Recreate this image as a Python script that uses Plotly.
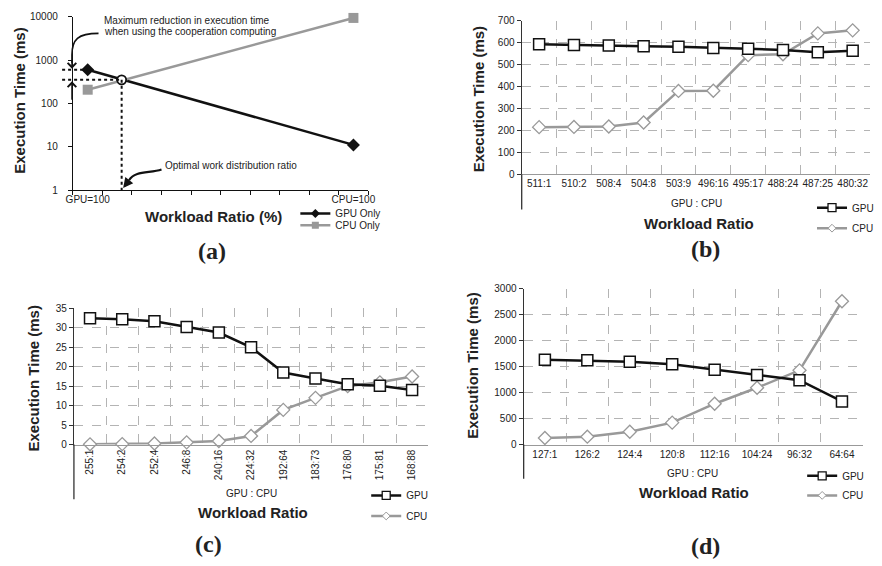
import plotly.graph_objects as go
import math

# ---------------- data ----------------
# (a) conceptual chart, log scale
a_pos = [0.5, 9.5]
a_tick_text = ["GPU=100", "CPU=100"]
a_gpu_only = [600, 11]
a_cpu_only = [207, 9400]
a_opt_x = [1.65]
a_opt_y = [350]

# (b)
b_labels = ["511:1", "510:2", "508:4", "504:8", "503:9", "496:16", "495:17", "488:24", "487:25", "480:32"]
b_gpu = [593, 589, 587, 583, 581, 575, 572, 567, 556, 563]
b_cpu = [215, 216, 218, 236, 380, 381, 543, 547, 642, 656]

# (c)
c_labels = ["255:1", "254:2", "252:4", "246:8", "240:16", "224:32", "192:64", "183:73", "176:80", "175:81", "168:88"]
c_gpu = [32.5, 32.2, 31.7, 30.2, 28.8, 25.0, 18.5, 17.0, 15.5, 15.1, 14.0]
c_cpu = [0.05, 0.1, 0.25, 0.55, 0.9, 2.2, 8.9, 12.0, 15.0, 16.0, 17.5]

# (d)
d_labels = ["127:1", "126:2", "124:4", "120:8", "112:16", "104:24", "96:32", "64:64"]
d_gpu = [1635, 1623, 1597, 1547, 1440, 1340, 1239, 830]
d_cpu = [126, 151, 245, 421, 786, 1094, 1430, 2761]

W, H = 882, 566
FONT = "Liberation Sans, Arial, sans-serif"
SERIF = "Liberation Serif, Times New Roman, serif"
TXT = "#222222"
BLACK = "#111111"
GRAY = "#999999"
GRID = "#b4b4b4"


def fx(px):
    return px / W


def fy(py):
    return 1 - py / H


# panel geometry (pixels)
A = dict(x0=67, x1=367, y0=11, y1=188)
B = dict(x0=523, x1=877, y0=15, y1=172)
C = dict(x0=68, x1=428, y0=309, y1=448)
D = dict(x0=525, x1=870, y0=289, y1=448)

fig = go.Figure()

# ---- (a)
fig.add_trace(go.Scatter(x=a_pos, y=a_gpu_only, mode="lines+markers", name="GPU Only",
                         line=dict(color=BLACK, width=2.5),
                         marker=dict(symbol="diamond", size=10, color=BLACK),
                         xaxis="x", yaxis="y", showlegend=False, cliponaxis=False))
fig.add_trace(go.Scatter(x=a_pos, y=a_cpu_only, mode="lines+markers", name="CPU Only",
                         line=dict(color=GRAY, width=2.5),
                         marker=dict(symbol="square", size=10, color=GRAY),
                         xaxis="x", yaxis="y", showlegend=False, cliponaxis=False))
fig.add_trace(go.Scatter(x=a_opt_x, y=a_opt_y, mode="markers", showlegend=False,
                         marker=dict(symbol="circle", size=9, color="white",
                                     line=dict(color=BLACK, width=1.8)),
                         xaxis="x", yaxis="y", cliponaxis=False))
# legend entries (smaller symbols, as in the reference legend)
fig.add_trace(go.Scatter(x=[None], y=[None], mode="lines+markers", name="GPU Only",
                         line=dict(color=BLACK, width=2.5),
                         marker=dict(symbol="diamond", size=7, color=BLACK),
                         xaxis="x", yaxis="y", legend="legend"))
fig.add_trace(go.Scatter(x=[None], y=[None], mode="lines+markers", name="CPU Only",
                         line=dict(color=GRAY, width=2.5),
                         marker=dict(symbol="square", size=7, color=GRAY),
                         xaxis="x", yaxis="y", legend="legend2"))

# ---- (b), (c), (d)
panels = [("x2", "y2", b_labels, b_gpu, b_cpu, "legend3", "legend4"),
          ("x3", "y3", c_labels, c_gpu, c_cpu, "legend5", "legend6"),
          ("x4", "y4", d_labels, d_gpu, d_cpu, "legend7", "legend8")]
for xa, ya, labs, g, cdat, lg1, lg2 in panels:
    fig.add_trace(go.Scatter(x=labs, y=cdat, mode="lines+markers", name="CPU",
                             line=dict(color=GRAY, width=2.5),
                             marker=dict(symbol="diamond", size=10, color="white",
                                         line=dict(color=GRAY, width=1.3)),
                             xaxis=xa, yaxis=ya, showlegend=False, cliponaxis=False))
    fig.add_trace(go.Scatter(x=labs, y=g, mode="lines+markers", name="GPU",
                             line=dict(color=BLACK, width=2.5),
                             marker=dict(symbol="square", size=11, color="white",
                                         line=dict(color=BLACK, width=1.5)),
                             xaxis=xa, yaxis=ya, showlegend=False, cliponaxis=False))
    fig.add_trace(go.Scatter(x=[None], y=[None], mode="lines+markers", name="GPU",
                             line=dict(color=BLACK, width=2.5),
                             marker=dict(symbol="square", size=8, color="white",
                                         line=dict(color=BLACK, width=1.3)),
                             xaxis=xa, yaxis=ya, legend=lg1))
    fig.add_trace(go.Scatter(x=[None], y=[None], mode="lines+markers", name="CPU",
                             line=dict(color=GRAY, width=2.5),
                             marker=dict(symbol="diamond", size=6, color="white",
                                         line=dict(color=GRAY, width=1)),
                             xaxis=xa, yaxis=ya, legend=lg2))

tickfont = dict(family=FONT, size=10, color=TXT)

layout = dict(
    width=W, height=H, margin=dict(l=0, r=0, t=0, b=0), autosize=False,
    paper_bgcolor="white", plot_bgcolor="white",
    font=dict(family=FONT, size=10, color=TXT),
    xaxis=dict(domain=[fx(A["x0"]), fx(A["x1"])], anchor="y", range=[0, 10],
               tickmode="array", tickvals=a_pos, ticktext=a_tick_text, ticks="",
               showline=True, linecolor=BLACK, linewidth=1.3, showgrid=False, zeroline=False,
               tickfont=tickfont,
               minor=dict(tickmode="linear", tick0=0, dtick=1, ticks="outside", ticklen=4,
                          tickcolor=BLACK, tickwidth=1, showgrid=False)),
    yaxis=dict(domain=[fy(A["y1"]), fy(A["y0"])], anchor="x", type="log", range=[0, 4],
               tickmode="array", tickvals=[1, 10, 100, 1000, 10000],
               ticktext=["1", "10", "100", "1000", "10000"],
               ticks="outside", ticklen=4, tickcolor=BLACK, showline=True, linecolor=BLACK,
               linewidth=1.3, showgrid=False, zeroline=False, tickfont=tickfont,
               ticklabelstandoff=8),
)


def cat_axes(P, xa, ya, n, rng, dtick, tickangle=0):
    xd = dict(domain=[fx(P["x0"]), fx(P["x1"])], anchor=ya, type="category",
              range=[-0.5, n - 0.5], tickson="boundaries", ticks="",
              showgrid=True, gridcolor=GRID, griddash="dash", gridwidth=1,
              showline=True, linecolor=GRAY, linewidth=1.2, zeroline=False,
              mirror=False, tickfont=tickfont, tickangle=tickangle)
    yd = dict(domain=[fy(P["y1"]), fy(P["y0"])], anchor=xa, range=rng, dtick=dtick,
              tick0=0, ticks="outside", ticklen=4, tickcolor="#333",
              showline=True, linecolor="#333", linewidth=1.3,
              showgrid=True, gridcolor=GRID, griddash="dash", gridwidth=1,
              zeroline=False, tickfont=tickfont)
    return xd, yd


layout["xaxis2"], layout["yaxis2"] = cat_axes(B, "x2", "y2", len(b_labels), [0, 700], 100)
layout["xaxis3"], layout["yaxis3"] = cat_axes(C, "x3", "y3", len(c_labels), [0, 35], 5, tickangle=-90)
layout["xaxis4"], layout["yaxis4"] = cat_axes(D, "x4", "y4", len(d_labels), [0, 3000], 500)

# legends (one per entry for exact placement); position = (text start x, row centre y)
leg_pos = {
    "legend": (333, 214), "legend2": (333, 226),
    "legend3": (858, 208), "legend4": (858, 229),
    "legend5": (405, 502), "legend6": (405, 523),
    "legend7": (848, 482), "legend8": (848, 502),
}
for k, (px, py) in leg_pos.items():
    layout[k] = dict(x=fx(px - 40), y=fy(py - 2), xanchor="left", yanchor="middle",
                     bgcolor="rgba(0,0,0,0)", borderwidth=0,
                     font=dict(family=FONT, size=10, color=TXT), itemwidth=30)

fig.update_layout(**layout)

annotations = []


def ann(text, px, py, size=10, bold=False, family=FONT, angle=0, xanchor="center"):
    t = f"<b>{text}</b>" if bold else text
    annotations.append(dict(text=t, x=fx(px), y=fy(py), xref="paper", yref="paper",
                            showarrow=False, xanchor=xanchor, yanchor="middle",
                            textangle=angle, font=dict(family=family, size=size, color=TXT)))


# y titles
ann("Execution Time (ms)", 13, 97, size=15, bold=True, angle=-90)
ann("Execution Time (ms)", 480, 95, size=15, bold=True, angle=-90)
ann("Execution Time (ms)", 27, 381, size=15, bold=True, angle=-90)
ann("Execution Time (ms)", 473, 367, size=15, bold=True, angle=-90)
# x titles
ann("Workload Ratio (%)", 210, 215, size=15, bold=True)
ann("Workload Ratio", 703, 222, size=15, bold=True)
ann("Workload Ratio", 250, 517, size=15, bold=True)
ann("Workload Ratio", 698, 497, size=15, bold=True)
# GPU : CPU
ann("GPU : CPU", 701, 202)
ann("GPU : CPU", 248, 498)
ann("GPU : CPU", 697, 478)
# panel labels
ann("(a)", 208, 250, size=24, bold=True, family=SERIF)
ann("(b)", 710, 248, size=24, bold=True, family=SERIF)
ann("(c)", 205, 550, size=24, bold=True, family=SERIF)
ann("(d)", 710, 552, size=24, bold=True, family=SERIF)
# panel (a) notes
ann("Maximum reduction in execution time", 97, 15, xanchor="left")
ann("when using the cooperation computing", 97, 26, xanchor="left")
ann("Optimal work distribution ratio", 159, 163, xanchor="left")


# helpers mapping (a) data values to paper coords
def ax_a(v):
    return fx(A["x0"]) + v / 10 * (fx(A["x1"]) - fx(A["x0"]))


def ay_a(v):
    return fy(A["y1"]) + math.log10(v) / 4 * (fy(A["y0"]) - fy(A["y1"]))


shapes = []
dash = "3px,3px"
# dashed guides
shapes.append(dict(type="line", xref="paper", yref="paper", x0=fx(56), x1=ax_a(a_pos[0]),
                   y0=ay_a(a_gpu_only[0]), y1=ay_a(a_gpu_only[0]),
                   line=dict(color=BLACK, width=2, dash=dash)))
shapes.append(dict(type="line", xref="paper", yref="paper", x0=fx(56), x1=ax_a(a_opt_x[0]),
                   y0=ay_a(a_opt_y[0]), y1=ay_a(a_opt_y[0]),
                   line=dict(color=BLACK, width=2, dash=dash)))
shapes.append(dict(type="line", xref="paper", yref="paper", x0=ax_a(a_opt_x[0]), x1=ax_a(a_opt_x[0]),
                   y0=ay_a(a_opt_y[0]), y1=fy(A["y1"]),
                   line=dict(color=BLACK, width=2, dash=dash)))


def P(px, py):
    return f"{fx(px):.5f},{fy(py):.5f}"


# curved arrow to the max-reduction arrow
shapes.append(dict(type="path", xref="paper", yref="paper",
                   path=f"M{P(93, 28)} C{P(72, 28)} {P(66, 34)} {P(66, 50)} L{P(66, 58)}",
                   line=dict(color=BLACK, width=1.6)))
# curved arrow to optimal ratio
shapes.append(dict(type="path", xref="paper", yref="paper",
                   path=f"M{P(157, 167)} C{P(145, 171)} {P(130, 168)} {P(124, 178)}",
                   line=dict(color=BLACK, width=2.2)))

annotations.append(dict(x=fx(66), y=fy(64), xref="paper", yref="paper", text="",
                        showarrow=True, ax=0, ay=-10, arrowhead=4, arrowsize=1.2,
                        arrowwidth=1.4, arrowcolor=BLACK))
annotations.append(dict(x=fx(66), y=fy(77), xref="paper", yref="paper", text="",
                        showarrow=True, ax=0, ay=20, arrowhead=4, arrowsize=1.2,
                        arrowwidth=1.4, arrowcolor=BLACK))
annotations.append(dict(x=fx(118), y=fy(186), xref="paper", yref="paper", text="",
                        showarrow=True, ax=7, ay=-9, arrowhead=2, arrowsize=1.0,
                        arrowwidth=2, arrowcolor=BLACK))

# y-axis line extensions below plots
for P_, bottom in ((B, 208), (C, 504), (D, 483)):
    shapes.append(dict(type="line", xref="paper", yref="paper", x0=fx(P_["x0"]), x1=fx(P_["x0"]),
                       y0=fy(P_["y1"]), y1=fy(bottom), line=dict(color="#333", width=1.3)))

fig.update_layout(annotations=annotations, shapes=shapes)
fig.write_html("out.html", config={"displayModeBar": False},
               post_script="document.body.style.margin='0px';"
                           "document.documentElement.style.overflow='hidden';")
